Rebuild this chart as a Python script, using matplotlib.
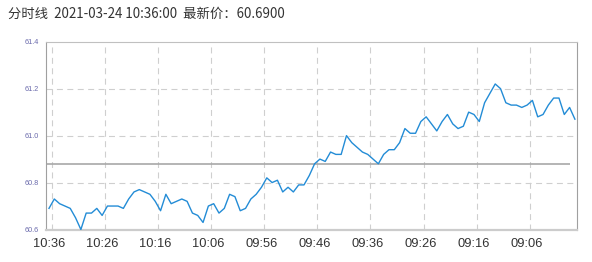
import matplotlib
matplotlib.use('Agg')
import matplotlib.pyplot as plt
import numpy as np

### Data: minute prices, newest (10:36) first
prices = [60.69, 60.73, 60.71, 60.70, 60.69, 60.65, 60.60, 60.67, 60.67, 60.69,
          60.66, 60.70, 60.70, 60.70, 60.69, 60.73, 60.76, 60.77, 60.76, 60.75,
          60.72, 60.68, 60.75, 60.71, 60.72, 60.73, 60.72, 60.67, 60.66, 60.63,
          60.70, 60.71, 60.67, 60.69, 60.75, 60.74, 60.68, 60.69, 60.73, 60.75,
          60.78, 60.82, 60.80, 60.81, 60.76, 60.78, 60.76, 60.79, 60.79, 60.83,
          60.88, 60.90, 60.89, 60.93, 60.92, 60.92, 61.00, 60.97, 60.95, 60.93,
          60.92, 60.90, 60.88, 60.92, 60.94, 60.94, 60.97, 61.03, 61.01, 61.01,
          61.06, 61.08, 61.05, 61.02, 61.06, 61.09, 61.05, 61.03, 61.04, 61.10,
          61.09, 61.06, 61.14, 61.18, 61.22, 61.20, 61.14, 61.13, 61.13, 61.12,
          61.13, 61.15, 61.08, 61.09, 61.13, 61.16, 61.16, 61.09, 61.12, 61.07]
tick_labels = ["10:36", "10:26", "10:16", "10:06", "09:56",
               "09:46", "09:36", "09:26", "09:16", "09:06"]
y_ticks = [60.6, 60.8, 61.0, 61.2, 61.4]
prev_close = 60.88
title = "分时线  2021-03-24 10:36:00  最新价：60.6900"
###

plt.rcParams['lines.scale_dashes'] = False

fig = plt.figure(figsize=(5.92, 2.62), dpi=100)
ax = fig.add_axes([0.0772, 0.124, 0.8968, 0.7168])

x = np.arange(len(prices))
tick_pos = np.arange(len(tick_labels)) * 10

ax.plot(x, prices, color='#238cd6', lw=1.0, zorder=3)
ax.hlines(prev_close, -1, len(prices) - 2, color='#a8a8a8', lw=1.2, zorder=2)

ax.set_xlim(-0.62, len(prices) - 0.68)
ax.set_ylim(y_ticks[0], y_ticks[-1])

ax.set_xticks(tick_pos)
ax.set_xticklabels(tick_labels, fontsize=9.3, color='#333333', family='Liberation Sans')
ax.set_xticks(tick_pos + 0.5, minor=True)
ax.set_yticks(y_ticks)
ax.set_yticklabels(["%.1f" % v for v in y_ticks], fontsize=5.2, color='#6a6aac',
                   family='Liberation Sans')
ax.tick_params(axis='x', which='both', length=0, pad=6)
ax.tick_params(axis='y', length=0, pad=5)

ax.grid(axis='x', which='minor', color='#cfcfcf', lw=0.8, dashes=(4.3, 3.2))
for v in y_ticks[1:-1]:
    ax.axhline(v, color='#cfcfcf', lw=0.8, dashes=(4.3, 3.2), zorder=1)

ax.spines['left'].set_color('#a0a0a0')
ax.spines['right'].set_color('#a0a0a0')
ax.spines['top'].set_color('#c0c0c0')
ax.spines['bottom'].set_color('#cccccc')
ax.spines['bottom'].set_linewidth(1.6)

fig.text(8 / 592, 1 - 14 / 262, title, fontsize=9.6, color='#333333',
         family=['Noto Sans CJK SC', 'DejaVu Sans'], va='center', ha='left')

plt.savefig("out.png", dpi=100)
